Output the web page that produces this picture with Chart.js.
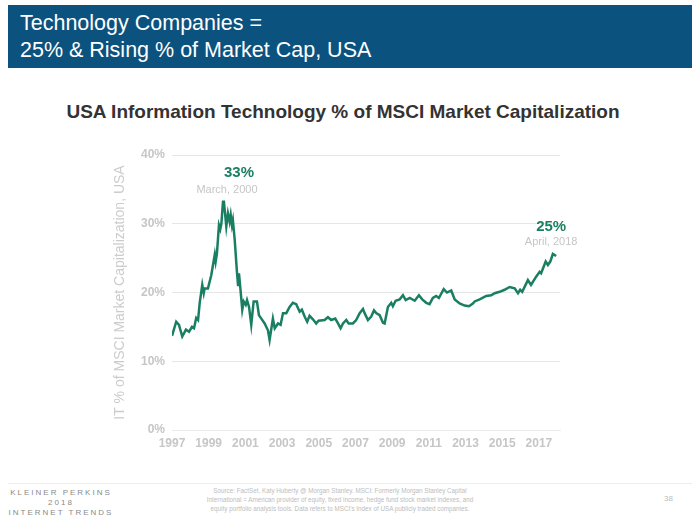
<!DOCTYPE html>
<html>
<head>
<meta charset="utf-8">
<script src="https://cdn.jsdelivr.net/npm/chart.js@4/dist/chart.umd.min.js"></script>
<style>
  html, body { margin: 0; padding: 0; background: #fff; }
  body { width: 700px; height: 525px; position: relative; overflow: hidden; font-family: "Liberation Sans", Arial, sans-serif; }
  #header { position: absolute; left: 8px; top: 5px; width: 684px; height: 63px; background: #0b527e; }
  #header div { position: absolute; left: 12px; color: #fff; font-size: 21.5px; line-height: 26px; white-space: nowrap; }
  #title { position: absolute; left: 0; width: 686px; top: 101px; text-align: center; font-size: 19px; font-weight: bold; color: #333; white-space: nowrap; }
  #chartwrap { position: absolute; left: 100px; top: 140px; width: 480px; height: 320px; }
  #footline { position: absolute; left: 8px; top: 483px; width: 684px; height: 1px; background: #eeeeee; }
  .kp { position: absolute; left: 0; width: 122px; text-align: center; color: #8a8a8a; font-size: 8px; letter-spacing: 2px; white-space: nowrap; }
  #source { position: absolute; left: 170px; width: 340px; top: 486px; text-align: center; color: #bdbdbd; font-size: 6.3px; line-height: 9px; white-space: nowrap; }
  #page { position: absolute; left: 664px; top: 494px; color: #bbb; font-size: 8px; }
</style>
</head>
<body>
<div id="header">
  <div style="top:5px">Technology Companies =</div>
  <div style="top:32px">25% &amp; Rising % of Market Cap, USA</div>
</div>
<div id="title">USA Information Technology % of MSCI Market Capitalization</div>
<div id="chartwrap"><canvas id="c" width="480" height="320"></canvas></div>
<div id="footline"></div>
<div class="kp" style="top:488px">KLEINER PERKINS</div>
<div class="kp" style="top:498px">2018</div>
<div class="kp" style="top:508px">INTERNET TRENDS</div>
<div id="source">Source: FactSet, Katy Huberty @ Morgan Stanley. MSCI: Formerly Morgan Stanley Capital<br>International = American provider of equity, fixed income, hedge fund stock market indexes, and<br>equity portfolio analysis tools. Data refers to MSCI's Index of USA publicly traded companies.</div>
<div id="page">38</div>
<script>
// Decimal year positions of observations
const years = [
  1997.00, 1997.23, 1997.38, 1997.56, 1997.76, 1997.93, 1998.09, 1998.20, 1998.32, 1998.42,
  1998.51, 1998.65, 1998.73, 1998.78, 1998.96, 1999.14, 1999.33, 1999.38, 1999.45, 1999.56,
  1999.63, 1999.69, 1999.78, 1999.83, 1999.96, 2000.05, 2000.14, 2000.20, 2000.27, 2000.32,
  2000.42, 2000.54, 2000.60, 2000.65, 2000.72, 2000.83, 2000.91, 2001.02, 2001.09, 2001.20,
  2001.32, 2001.45, 2001.63, 2001.74, 2001.87, 2002.05, 2002.23, 2002.32, 2002.50, 2002.60,
  2002.78, 2002.92, 2003.05, 2003.23, 2003.41, 2003.59, 2003.77, 2003.96, 2004.08, 2004.23,
  2004.37, 2004.50, 2004.68, 2004.86, 2004.99, 2005.32, 2005.50, 2005.68, 2005.90, 2006.05,
  2006.19, 2006.32, 2006.50, 2006.63, 2006.86, 2007.04, 2007.23, 2007.41, 2007.50, 2007.68,
  2007.86, 2008.01, 2008.13, 2008.32, 2008.50, 2008.59, 2008.77, 2008.95, 2009.04, 2009.19,
  2009.41, 2009.59, 2009.74, 2009.96, 2010.23, 2010.46, 2010.64, 2010.86, 2011.04, 2011.22,
  2011.40, 2011.55, 2011.81, 2011.99, 2012.22, 2012.41, 2012.68, 2012.95, 2013.19, 2013.40,
  2013.50, 2013.77, 2014.13, 2014.40, 2014.59, 2014.86, 2015.13, 2015.40, 2015.68, 2015.86,
  2015.98, 2016.09, 2016.40, 2016.57, 2016.85, 2017.04, 2017.12, 2017.37, 2017.49, 2017.62,
  2017.76, 2017.94
];
// IT share of MSCI USA market cap, %
const itShare = [
  13.7, 15.75, 15.3, 13.6, 14.6, 14.3, 15.0, 14.8, 16.3, 16.0,
  18.5, 21.1, 19.9, 20.6, 20.6, 22.5, 25.5, 24.5, 25.7, 29.8,
  29.2, 30.0, 33.2, 33.2, 29.6, 31.5, 30.3, 31.3, 29.8, 30.5,
  27.6, 23.0, 21.1, 22.8, 20.8, 17.5, 18.7, 18.2, 18.9, 17.9,
  15.3, 18.7, 18.7, 16.7, 16.2, 15.5, 14.5, 13.1, 16.2, 14.8,
  15.5, 15.3, 17.0, 17.0, 17.9, 18.5, 18.3, 17.2, 17.5, 16.5,
  15.75, 16.6, 16.1, 15.5, 15.9, 16.0, 16.4, 16.0, 16.2, 15.5,
  14.8, 15.5, 16.0, 15.5, 15.5, 16.0, 17.0, 17.6, 17.0, 16.0,
  16.5, 17.4, 17.0, 16.7, 15.6, 15.5, 17.9, 18.5, 18.0, 18.8,
  19.0, 19.6, 18.9, 19.2, 18.8, 19.6, 19.0, 18.5, 18.3, 19.2,
  19.5, 19.2, 20.5, 20.0, 20.3, 19.0, 18.4, 18.1, 18.0, 18.4,
  18.7, 19.0, 19.5, 19.6, 19.9, 20.1, 20.4, 20.8, 20.6, 19.9,
  20.4, 20.1, 21.8, 21.1, 22.3, 23.0, 22.8, 24.5, 24.0, 24.5,
  25.6, 25.3
];
const xTicks = [1997, 1999, 2001, 2003, 2005, 2007, 2009, 2011, 2013, 2015, 2017];
const yTicks = [0, 10, 20, 30, 40];
const peakLabel = ["33%", "March, 2000"];
const endLabel = ["25%", "April, 2018"];

const GREEN = '#1a7f62';
const GRAY_TXT = '#c6c6c6';

const labelPlugin = {
  id: 'callouts',
  afterDatasetsDraw(chart) {
    const ctx = chart.ctx, xs = chart.scales.x, ys = chart.scales.y;
    let pi = 0;
    itShare.forEach((v, i) => { if (v > itShare[pi]) pi = i; });
    const li = itShare.length - 1;
    const draw = (i, lab, dxBig, dyBig, dxSmall, dySmall) => {
      const px = xs.getPixelForValue(years[i]);
      const py = ys.getPixelForValue(itShare[i]);
      ctx.save();
      ctx.textAlign = 'center';
      ctx.textBaseline = 'middle';
      ctx.fillStyle = GREEN;
      ctx.font = 'bold 15px "Liberation Sans", Arial, sans-serif';
      ctx.fillText(lab[0], px + dxBig, py + dyBig);
      ctx.fillStyle = GRAY_TXT;
      ctx.font = '11px "Liberation Sans", Arial, sans-serif';
      ctx.fillText(lab[1], px + dxSmall, py + dySmall);
      ctx.restore();
    };
    draw(pi, peakLabel, 16, -29, 4, -12);
    draw(li, endLabel, -5, -29, -5, -14);
  }
};

new Chart(document.getElementById('c'), {
  type: 'line',
  data: {
    datasets: [{
      data: years.map((y, i) => ({ x: y, y: itShare[i] })),
      borderColor: GREEN,
      borderWidth: 2.5,
      pointRadius: 0,
      tension: 0,
      fill: false
    }]
  },
  options: {
    responsive: false,
    animation: false,
    layout: { padding: { left: 12, right: 20, top: 15, bottom: 0 } },
    plugins: { legend: { display: false }, tooltip: { enabled: false } },
    scales: {
      x: {
        type: 'linear',
        min: 1997,
        max: 2018.15,
        afterBuildTicks: s => { s.ticks = xTicks.map(v => ({ value: v })); },
        afterFit: s => { s.height = 30; },
        grid: { display: false, drawTicks: false },
        border: { display: true, color: '#ececec' },
        ticks: {
          padding: 6,
          color: GRAY_TXT,
          font: { family: '"Liberation Sans", Arial, sans-serif', size: 12, weight: 'bold' },
          maxRotation: 0,
          autoSkip: false,
          callback: v => String(v)
        }
      },
      y: {
        min: 0,
        max: 40,
        afterBuildTicks: s => { s.ticks = yTicks.map(v => ({ value: v })); },
        afterFit: s => { s.width = 60; },
        grid: { color: '#e6e6e6', lineWidth: 1, drawTicks: false },
        border: { display: false },
        ticks: {
          padding: 7,
          color: GRAY_TXT,
          font: { family: '"Liberation Sans", Arial, sans-serif', size: 12, weight: 'bold' },
          callback: v => v + '%'
        },
        title: {
          display: true,
          text: 'IT % of MSCI Market Capitalization, USA',
          color: '#cccccc',
          padding: 0,
          font: { family: '"Liberation Sans", Arial, sans-serif', size: 14 }
        }
      }
    }
  },
  plugins: [labelPlugin]
});
</script>
</body>
</html>
